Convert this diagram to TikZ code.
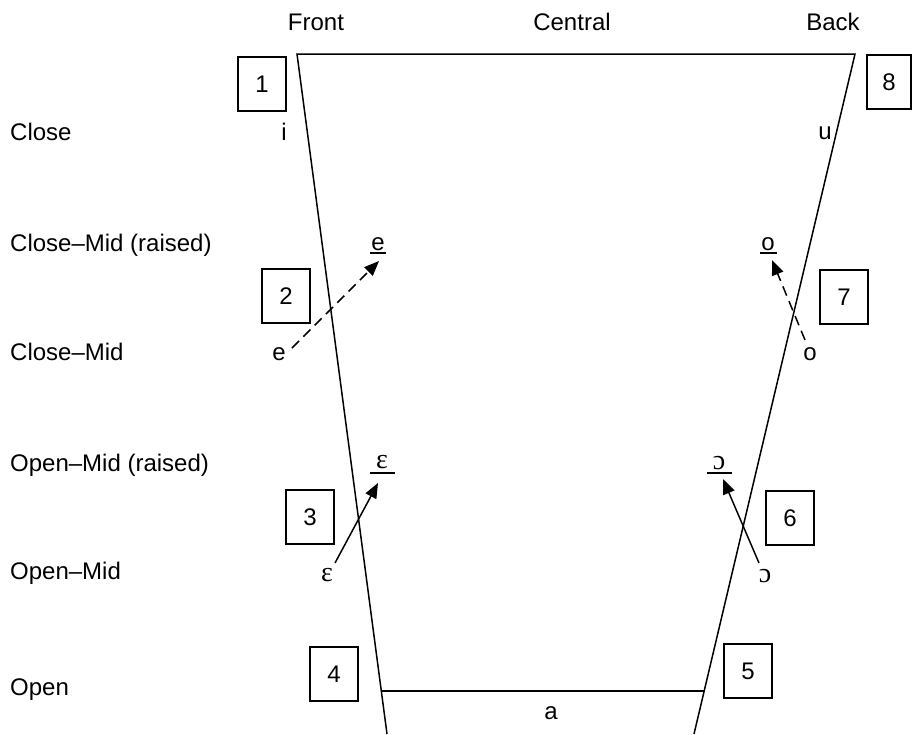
\documentclass[tikz,border=0pt]{standalone}
\usepackage{fontspec}
\setmainfont{Liberation Sans}
\newfontfamily\ipafont{Liberation Serif}
\usetikzlibrary{arrows.meta,calc}
\begin{document}
\begin{tikzpicture}[x=1pt,y=-1pt,
  lbl/.style={font=\fontsize{24}{28}\selectfont, inner sep=0pt, anchor=base west},
  hdr/.style={font=\fontsize{24}{28}\selectfont, inner sep=0pt, anchor=base},
  vow/.style={font=\fontsize{24}{28}\selectfont, inner sep=0pt, anchor=base},
  ipa/.style={font=\fontsize{28}{30}\ipafont, inner sep=0pt, anchor=base},
  numbox/.style={draw, line width=1.4pt, minimum width=48pt, minimum height=54pt, inner sep=0pt, font=\fontsize{24}{28}\selectfont},
  edge/.style={line width=1.5pt},
  uline/.style={line width=1.5pt},
  arr/.style={line width=1.5pt, -{Triangle[length=15pt,width=12pt]}},
  dasharr/.style={arr, dash pattern=on 10pt off 6pt}]
\useasboundingbox (0,0) rectangle (913,734);
% headers
\node[hdr] (hfront) at (316,30) {Front};
\node[hdr] (hcentral) at (572,30) {Central};
\node[hdr] (hback) at (833,30) {Back};
% row labels
\node[lbl] (rclose) at (10,140) {Close};
\node[lbl] (rcmr) at (10,251) {Close–Mid (raised)};
\node[lbl] (rcm) at (10,360) {Close–Mid};
\node[lbl] (romr) at (10,471) {Open–Mid (raised)};
\node[lbl] (rom) at (10,579) {Open–Mid};
\node[lbl] (ropen) at (10,695) {Open};
% trapezoid
\coordinate (TL) at (297,54);
\coordinate (TR) at (855,54);
\coordinate (BL) at (387,734);
\coordinate (BR) at (694,734);
\coordinate (OL) at ($(TL)!0.9368!(BL)$);
\coordinate (OR) at ($(TR)!0.9368!(BR)$);
\draw[edge] (BL) -- (TL) -- (TR) -- (BR);
\draw[edge] (OL) -- (OR);
% numbered boxes
\node[numbox] (b1) at (262,84) {1};
\node[numbox] (b2) at (286,296) {2};
\node[numbox] (b3) at (310,517) {3};
\node[numbox] (b4) at (334,674) {4};
\node[numbox] (b5) at (748,671) {5};
\node[numbox] (b6) at (790,518) {6};
\node[numbox] (b7) at (844,297) {7};
\node[numbox, minimum width=44pt] (b8) at (889,82) {8};
% vowels
\node[vow] (vi) at (284,140) {i};
\node[vow] (vu) at (825,139) {u};
\node[vow] (veh) at (378,250) {e};
\node[vow] (ve) at (279,360) {e};
\node[vow] (voh) at (768,250) {o};
\node[vow] (vo) at (810,360) {o};
\node[ipa] (vEh) at (382,468) {ε};
\node[ipa] (vE) at (327,581) {ε};
\node[ipa] (vOh) at (719,469) {ɔ};
\node[ipa] (vO) at (765,582) {ɔ};
\node[vow] (va) at (551,719) {a};
% underlines
\draw[uline] (370,253) -- (386,253);
\draw[uline] (760,253) -- (777,253);
\draw[uline] (370,473) -- (395,473);
\draw[uline] (707,473) -- (732,473);
% arrows
\coordinate (eS) at (292,348);
\coordinate (eT) at (379,261);
\coordinate (oS) at (805,340);
\coordinate (oT) at (772,260);
\coordinate (ES) at (335,563);
\coordinate (ET) at (378,483);
\coordinate (OS) at (759,563);
\coordinate (OT) at (723,479);
\draw[dasharr] (eS) -- (eT);
\draw[dasharr] (oS) -- (oT);
\draw[arr] (ES) -- (ET);
\draw[arr] (OS) -- (OT);
\end{tikzpicture}
\end{document}
